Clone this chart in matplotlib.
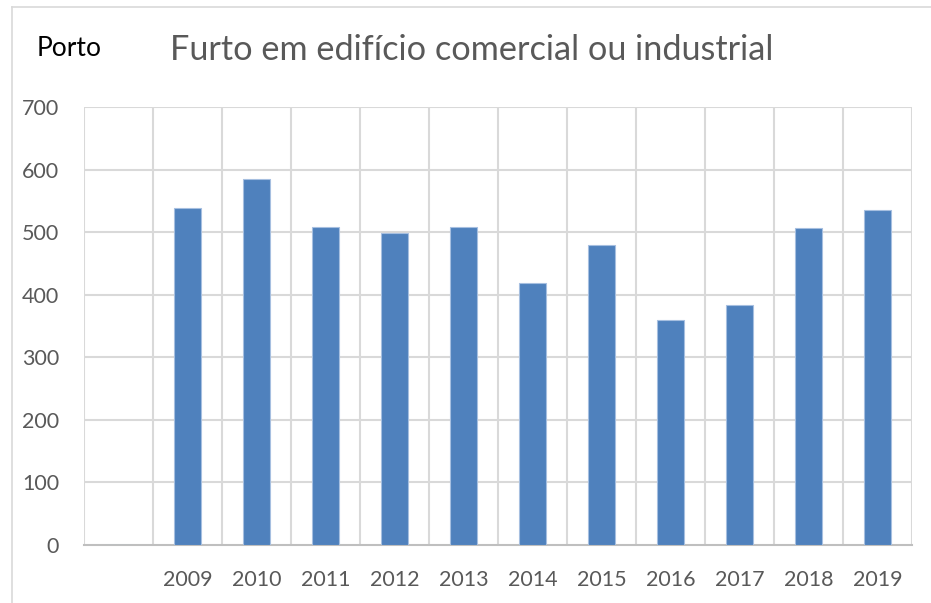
import matplotlib
matplotlib.use('Agg')
import matplotlib.pyplot as plt
from matplotlib.lines import Line2D

plt.rcParams['font.family'] = ['Lato', 'DejaVu Sans']

# data
categories = ['', '2009', '2010', '2011', '2012', '2013', '2014',
              '2015', '2016', '2017', '2018', '2019']
values = [0, 538, 585, 509, 498, 509, 419, 479, 359, 383, 506, 535]
y_ticks = [0, 100, 200, 300, 400, 500, 600, 700]

bar_color = '#4f81bd'
grid_color = '#d9d9d9'
text_color = '#595959'

fig = plt.figure(figsize=(9.31, 6.03), dpi=100)
ax = fig.add_axes([84/931, 1 - 545/603, 828/931, 438/603])

xs = list(range(len(categories)))
heights = [v if c else 0 for c, v in zip(categories, values)]
ax.bar(xs, heights, width=0.39, color=bar_color, edgecolor='#a6bfe0',
       linewidth=0.8, zorder=3)

ax.set_xlim(-0.5, len(categories) - 0.5)
ax.set_ylim(0, 700)
ax.set_yticks(y_ticks)
ax.set_xticks(xs)
ax.set_xticklabels(categories)

# vertical lines at category boundaries, horizontal lines at ticks
for b in range(len(categories) + 1):
    ax.axvline(b - 0.5, color=grid_color, lw=1.5, zorder=1)
for t in y_ticks[1:]:
    ax.axhline(t, color=grid_color, lw=1.5, zorder=1)

for s in ['top', 'right', 'left']:
    ax.spines[s].set_visible(False)
ax.spines['bottom'].set_color('#bfbfbf')
ax.spines['bottom'].set_linewidth(1.5)

ax.tick_params(axis='both', length=0, labelsize=15.5, colors=text_color)
ax.tick_params(axis='x', pad=18)
ax.tick_params(axis='y', pad=18)

fig.text(170/931, 1 - 50/603, 'Furto em edifício comercial ou industrial',
         fontsize=24.7, color=text_color, va='center', ha='left')
fig.text(37/931, 1 - 48/603, 'Porto', fontsize=19, color='black',
         va='center', ha='left')

# outer chart border
fig.add_artist(Line2D([12/931, 12/931], [0, 1 - 7/603], color='#d9d9d9',
                      lw=1.2, transform=fig.transFigure))
fig.add_artist(Line2D([12/931, 1], [1 - 7/603, 1 - 7/603], color='#d9d9d9',
                      lw=1.2, transform=fig.transFigure))

fig.savefig('out.png', dpi=100)
